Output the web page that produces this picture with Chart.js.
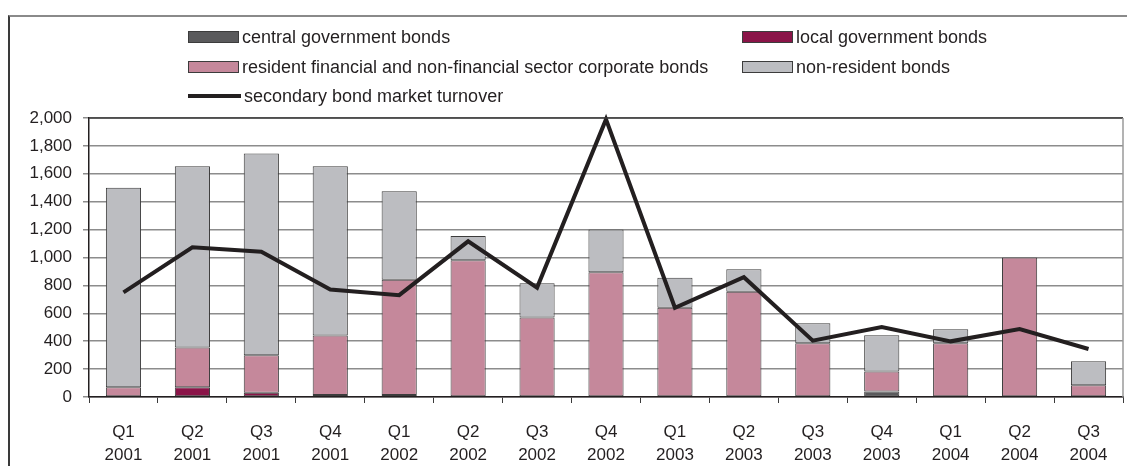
<!DOCTYPE html>
<html>
<head>
<meta charset="utf-8">
<script src="https://cdn.jsdelivr.net/npm/chart.js@4/dist/chart.umd.min.js"></script>
<style>
  html, body { margin: 0; padding: 0; background: #fff; }
  #wrap { position: relative; width: 1127px; height: 466px; overflow: hidden; font-family: "Liberation Sans", Arial, sans-serif; color: #231f20; }
  #frame { position: absolute; left: 8px; top: 15px; right: -4px; bottom: -4px; border-left: 2px solid #3a3a3a; border-top: 2px solid #8a8a8a; }
  #chart { position: absolute; left: 0; top: 0; }
  .key { position: absolute; font-size: 18px; line-height: 20px; white-space: nowrap; display: flex; align-items: center; }
  .key .sw { width: 51px; height: 12px; border: 1px solid #3c3c3c; margin-right: 3px; box-sizing: border-box; }
  .key .ln { width: 53px; height: 4px; background: #231f20; margin-right: 3px; }
</style>
</head>
<body>
<div id="wrap">
  <div id="frame"></div>
  <canvas id="chart" width="1127" height="466"></canvas>
  <div id="legend"></div>
</div>
<script>
// --- Bond market data, quarterly ---
const quarters = ['Q1', 'Q2', 'Q3', 'Q4', 'Q1', 'Q2', 'Q3', 'Q4', 'Q1', 'Q2', 'Q3', 'Q4', 'Q1', 'Q2', 'Q3'];
const years = ['2001', '2001', '2001', '2001', '2002', '2002', '2002', '2002', '2003', '2003', '2003', '2003', '2004', '2004', '2004'];

const centralGov = [0, 0, 0, 0, 0, 0, 0, 0, 0, 0, 0, 40, 0, 0, 0];
const localGov = [0, 70, 30, 15, 15, 0, 0, 0, 0, 0, 0, 0, 0, 0, 0];
const corporate = [70, 285, 270, 425, 825, 980, 570, 895, 640, 755, 385, 142, 385, 1000, 85];
const nonResident = [1430, 1300, 1445, 1215, 635, 175, 245, 305, 215, 160, 143, 260, 100, 0, 172];
const turnover = [750, 1073, 1042, 770, 730, 1116, 784, 1990, 640, 859, 404, 501, 399, 487, 344];

const yTicks = [0, 200, 400, 600, 800, 1000, 1200, 1400, 1600, 1800, 2000];

const series = [
    { label: 'central government bonds', data: centralGov, color: '#5a5a5c' },
    { label: 'local government bonds', data: localGov, color: '#8a1448' },
    { label: 'resident financial and non-financial sector corporate bonds', data: corporate, color: '#c5889b' },
    { label: 'non-resident bonds', data: nonResident, color: '#bcbdc1' }
];

const textColor = '#231f20';
const gridColor = '#8c8c8c';

// Legend, laid out in two columns above the plot
const legendSlots = [
    { left: 188, top: 27 }, { left: 742, top: 27 },
    { left: 188, top: 57 }, { left: 742, top: 57 }
];
const legendEl = document.getElementById('legend');
series.forEach((s, i) => {
    const item = document.createElement('div');
    item.className = 'key';
    item.style.left = legendSlots[i].left + 'px';
    item.style.top = legendSlots[i].top + 'px';
    item.innerHTML = `<span class="sw" style="background:${s.color}"></span>${s.label}`;
    legendEl.appendChild(item);
});
const lineItem = document.createElement('div');
lineItem.className = 'key';
lineItem.style.left = '188px';
lineItem.style.top = '86px';
lineItem.innerHTML = '<span class="ln"></span>secondary bond market turnover';
legendEl.appendChild(lineItem);

// Plot border: dark top edge, grey right edge
const plotFrame = {
    id: 'plotFrame',
    afterDatasetsDraw(chart) {
        const { ctx, chartArea: a } = chart;
        ctx.save();
        ctx.lineWidth = 1.5;
        ctx.strokeStyle = '#3a3a3a';
        ctx.beginPath();
        ctx.moveTo(a.left, a.top);
        ctx.lineTo(a.right, a.top);
        ctx.stroke();
        ctx.strokeStyle = '#9a9a9a';
        ctx.beginPath();
        ctx.moveTo(a.right, a.top);
        ctx.lineTo(a.right, a.bottom);
        ctx.stroke();
        ctx.restore();
    }
};

const barSets = series.map(s => ({
    type: 'bar',
    label: s.label,
    data: s.data,
    backgroundColor: s.color,
    borderColor: '#3c3c3c',
    // empty segments get no outline
    borderWidth: ctx => (ctx.raw ? 1 : 0),
    borderSkipped: false,
    categoryPercentage: 1,
    barPercentage: 0.51,
    stack: 'bonds',
    order: 2
}));

new Chart(document.getElementById('chart').getContext('2d'), {
    data: {
        labels: quarters.map((q, i) => [q, years[i]]),
        datasets: [
            ...barSets,
            {
                type: 'line',
                label: 'secondary bond market turnover',
                data: turnover,
                borderColor: '#231f20',
                borderWidth: 4,
                pointRadius: 0,
                tension: 0,
                stack: 'turnover',
                clip: false,
                order: 1
            }
        ]
    },
    options: {
        responsive: false,
        animation: false,
        layout: { padding: { top: 118, right: 4, left: 0, bottom: 0 } },
        plugins: { legend: { display: false }, tooltip: { enabled: false } },
        scales: {
            x: {
                stacked: true,
                offset: true,
                grid: { offset: true, drawOnChartArea: false, drawTicks: true, tickLength: 6, color: '#3a3a3a', lineWidth: 1 },
                border: { color: '#231f20', width: 1.5 },
                ticks: { color: textColor, font: { family: 'Liberation Sans', size: 17, lineHeight: 1.4 }, padding: 17, maxRotation: 0, autoSkip: false },
                afterFit(scale) { scale.height = 69; }
            },
            y: {
                stacked: true,
                min: 0,
                max: 2000,
                afterBuildTicks(scale) { scale.ticks = yTicks.map(v => ({ value: v })); },
                grid: { color: gridColor, lineWidth: 1.5, tickLength: 6 },
                border: { color: '#231f20', width: 1.5 },
                ticks: {
                    color: textColor,
                    font: { family: 'Liberation Sans', size: 17 },
                    padding: 11,
                    callback: v => v.toLocaleString('en-US')
                },
                afterFit(scale) { scale.width = 89; }
            }
        }
    },
    plugins: [plotFrame]
});
</script>
</body>
</html>
